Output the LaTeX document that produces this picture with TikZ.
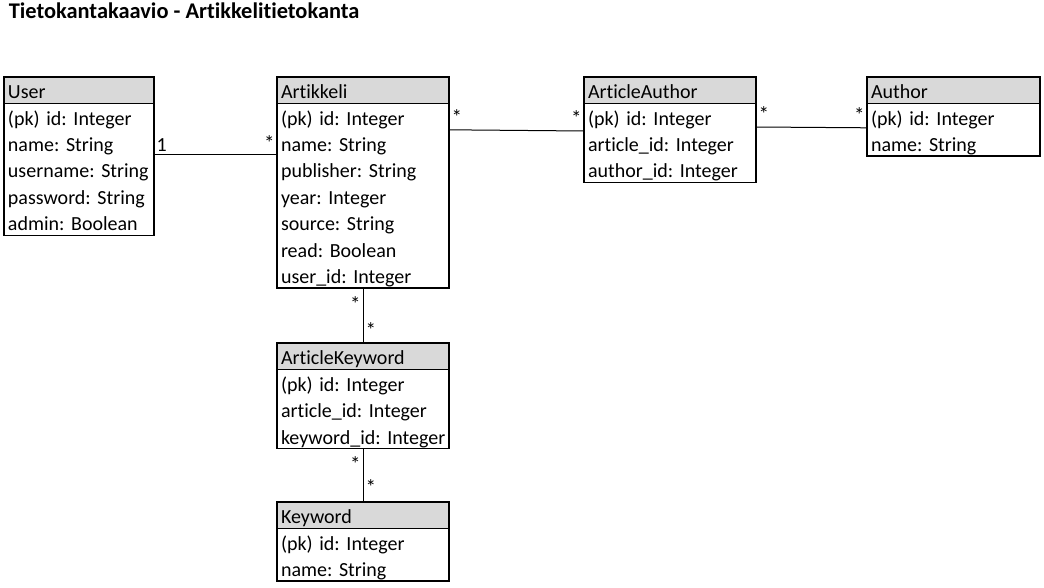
\documentclass[tikz,border=0pt]{standalone}
\usepackage{fontspec}
\setmainfont{Carlito}[Ligatures=NoCommon]
\usetikzlibrary{positioning}
\frenchspacing
\hbadness=10000 \hfuzz=20pt
\newcommand{\fld}[1]{\mbox{\rule[-4.6pt]{0pt}{26.4pt}#1}}
\tikzset{
erd/.style={x=1pt,y=-1pt,line width=1.6pt,
font=\fontsize{20}{26.4}\selectfont},
tablehead/.style={draw,fill=gray!30,anchor=north west,outer sep=0pt,
inner xsep=4pt,inner ysep=0pt,align=left,text width=#1},
tablebody/.style={draw,fill=white,outer sep=0pt,
inner xsep=4pt,inner ysep=0pt,align=left,text width=#1},
conn/.style={line width=1pt},
mult/.style={inner sep=2pt,font=\fontsize{21}{24}\selectfont},
}
\begin{document}
\begin{tikzpicture}[erd]
\useasboundingbox (0,0) rectangle (1044,588);
\node[anchor=base west,inner sep=0pt,font=\bfseries\fontsize{22.4}{26}\selectfont]
  (title) at (8,19) {Tietokantakaavio - Artikkelitietokanta};

% tables
\node[tablehead=142pt] (userh) at (4,77) {\fld{User}};
\node[tablebody=142pt,below=0pt of userh] (userb) {\fld{(pk) id: Integer}\\
  \fld{name: String}\\ \fld{username: String}\\ \fld{password: String}\\
  \fld{admin: Boolean}};

\node[tablehead=164pt] (arth) at (277,77) {\fld{Artikkeli}};
\node[tablebody=164pt,below=0pt of arth] (artb) {\fld{(pk) id: Integer}\\
  \fld{name: String}\\ \fld{publisher: String}\\ \fld{year: Integer}\\
  \fld{source: String}\\ \fld{read: Boolean}\\ \fld{user\_id: Integer}};

\node[tablehead=164pt] (aah) at (584,77) {\fld{ArticleAuthor}};
\node[tablebody=164pt,below=0pt of aah] (aab) {\fld{(pk) id: Integer}\\
  \fld{article\_id: Integer}\\ \fld{author\_id: Integer}};

\node[tablehead=165pt] (authh) at (867,77) {\fld{Author}};
\node[tablebody=165pt,below=0pt of authh] (authb) {\fld{(pk) id: Integer}\\
  \fld{name: String}};

\node[tablehead=164pt] (akh) at (277,343) {\fld{ArticleKeyword}};
\node[tablebody=164pt,below=0pt of akh] (akb) {\fld{(pk) id: Integer}\\
  \fld{article\_id: Integer}\\ \fld{keyword\_id: Integer}};

\node[tablehead=164pt] (kwh) at (277,502) {\fld{Keyword}};
\node[tablebody=164pt,below=0pt of kwh] (kwb) {\fld{(pk) id: Integer}\\
  \fld{name: String}};

% relations
\draw[conn] ([yshift=15]userb.east) coordinate (ua) -- (ua -| artb.west)
  node[mult,pos=0,above right,font=\fontsize{20}{24}\selectfont] {1}
  node[mult,pos=1,above left,yshift=1] {*};
\draw[conn] ([yshift=66]artb.east) -- ([yshift=12]aab.west)
  node[mult,pos=0,above right,yshift=3] {*} node[mult,pos=1,above left,yshift=3] {*};
\draw[conn] ([yshift=16]aab.east) -- ([yshift=2]authb.west)
  node[mult,pos=0,above right,yshift=3] {*} node[mult,pos=1,above left,yshift=3] {*};
\draw[conn] (artb.south) -- (akh.north)
  node[mult,pos=0,below left,yshift=-6] {*} node[mult,pos=1,above right,yshift=3] {*};
\draw[conn] (akb.south) -- (kwh.north)
  node[mult,pos=0,below left,yshift=-5] {*} node[mult,pos=1,above right,yshift=5] {*};
\end{tikzpicture}
\end{document}
